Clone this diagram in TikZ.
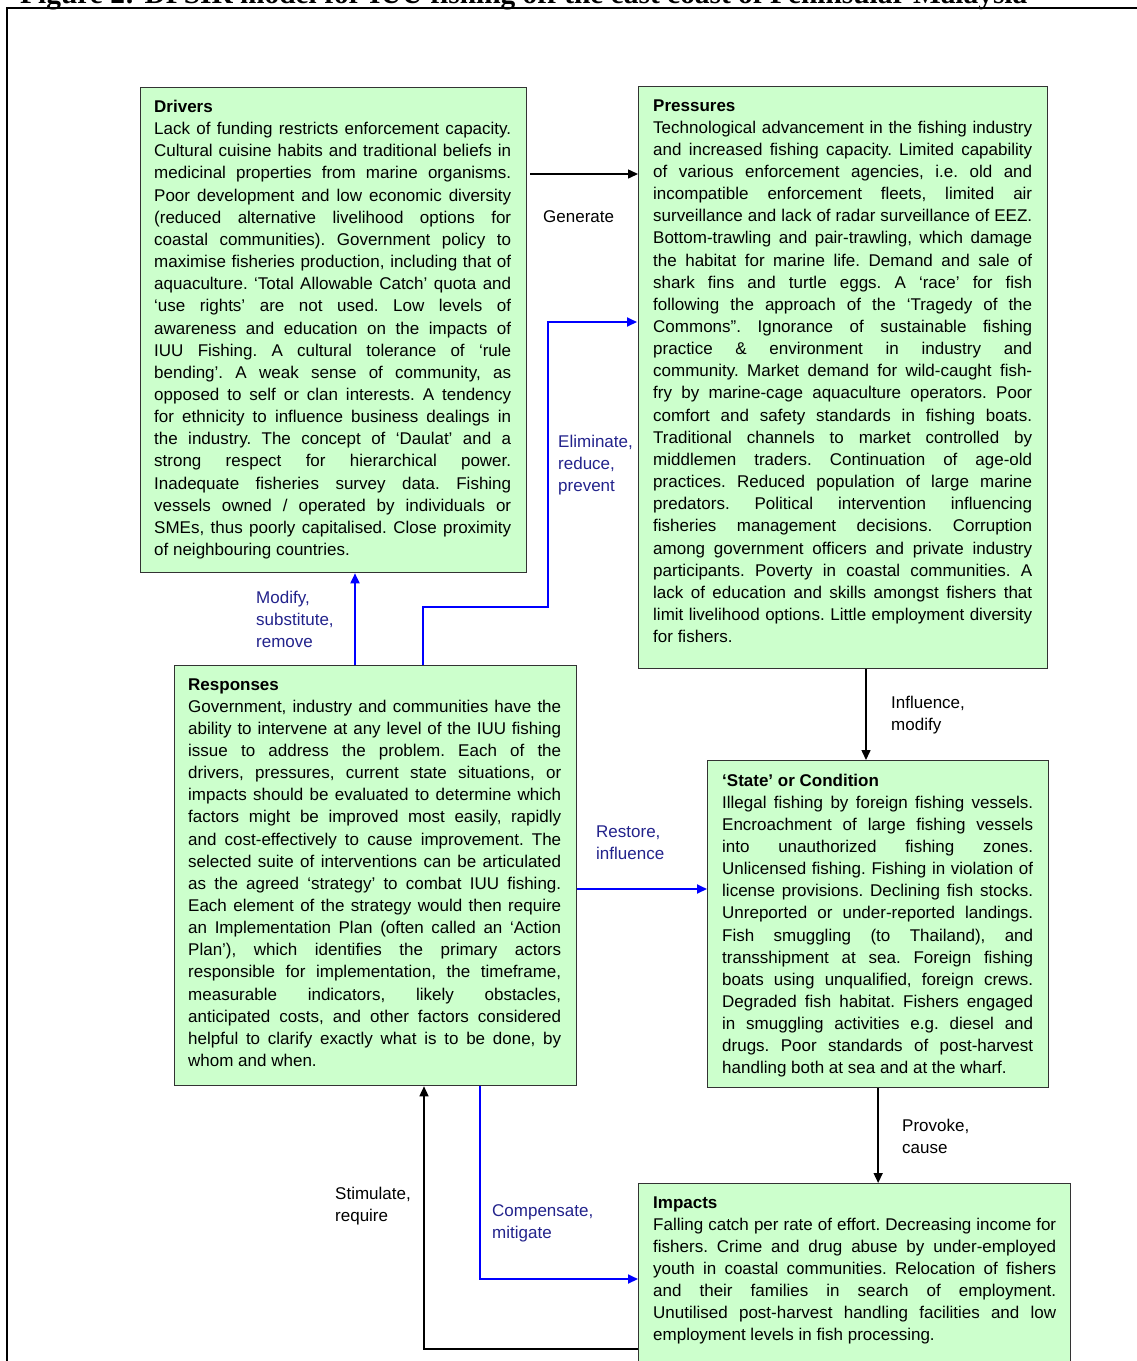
\documentclass[tikz,border=0pt]{standalone}
\usepackage{fontspec}
\setmainfont{Liberation Sans}
\newfontfamily\titlefont{Liberation Serif}
\usetikzlibrary{arrows.meta,calc}
\definecolor{boxfill}{HTML}{CCFFCC}
\definecolor{boxline}{HTML}{333333}
\definecolor{arrblue}{HTML}{0000FF}
\definecolor{lblblue}{HTML}{23238C}
\newcommand\JL[1]{\noindent\hbox to\hsize{\spaceskip=0.278em plus 1fill minus 0.08em\relax #1}\par}
\newcommand\NL[1]{\noindent\hbox{#1}\par}
\newcommand\TXT[2]{\vtop{\hsize=#1\parskip=0pt\parindent=0pt\frenchspacing\fontsize{17}{22.15}\selectfont #2}}
\tikzset{
  box/.style={draw=boxline, fill=boxfill, line width=1.3pt, inner sep=0pt, anchor=north west},
  txt/.style={inner sep=0pt, anchor=base west, text=black},
  lbl/.style={inner sep=0pt, anchor=base west},
  blk/.style={draw=black, line width=1.5pt, -{Triangle[length=10pt,width=9pt]}},
  blu/.style={draw=arrblue, line width=1.8pt, -{Triangle[length=10pt,width=9pt]}},
}
\begin{document}
\begin{tikzpicture}[x=1pt,y=-1pt]
\useasboundingbox (0,0) rectangle (1137,1361);
\fill[white] (0,0) rectangle (1137,1361);
% partially visible caption and frame
\node[inner sep=0pt, anchor=base west] (title) at (20,3.5) {\titlefont\bfseries\fontsize{29.4}{32}\selectfont Figure 2: DPSIR model for IUU fishing off the east coast of Peninsular Malaysia};
\draw[line width=1.5pt] (1160,8) -- (7,8) -- (7,1380);

% boxes
\node[box, minimum width=386pt, minimum height=485pt] (drivers) at (140,87) {};
\node[box, minimum width=409pt, minimum height=582pt] (pressures) at (638,86) {};
\node[box, minimum width=402pt, minimum height=420pt] (responses) at (174,665) {};
\node[box, minimum width=341pt, minimum height=327pt] (state) at (707,760) {};
\node[box, minimum width=432pt, minimum height=260pt] (impacts) at (638,1183) {};

\node[txt] (driversT) at (154,112.5) {\TXT{357pt}{%
\NL{\bfseries Drivers}
\JL{Lack of funding restricts enforcement capacity.}
\JL{Cultural cuisine habits and traditional beliefs in}
\JL{medicinal properties from marine organisms.}
\JL{Poor development and low economic diversity}
\JL{(reduced alternative livelihood options for}
\JL{coastal communities). Government policy to}
\JL{maximise fisheries production, including that of}
\JL{aquaculture. ‘Total Allowable Catch’ quota and}
\JL{‘use rights’ are not used. Low levels of}
\JL{awareness and education on the impacts of}
\JL{IUU Fishing. A cultural tolerance of ‘rule}
\JL{bending’. A weak sense of community, as}
\JL{opposed to self or clan interests. A tendency}
\JL{for ethnicity to influence business dealings in}
\JL{the industry. The concept of ‘Daulat’ and a}
\JL{strong respect for hierarchical power.}
\JL{Inadequate fisheries survey data. Fishing}
\JL{vessels owned / operated by individuals or}
\JL{SMEs, thus poorly capitalised. Close proximity}
\NL{of neighbouring countries.}}};

\node[txt] (pressuresT) at (653,111) {\TXT{379pt}{%
\NL{\bfseries Pressures}
\JL{Technological advancement in the fishing industry}
\JL{and increased fishing capacity. Limited capability}
\JL{of various enforcement agencies, i.e. old and}
\JL{incompatible enforcement fleets, limited air}
\JL{surveillance and lack of radar surveillance of EEZ.}
\JL{Bottom-trawling and pair-trawling, which damage}
\JL{the habitat for marine life. Demand and sale of}
\JL{shark fins and turtle eggs. A ‘race’ for fish}
\JL{following the approach of the ‘Tragedy of the}
\JL{Commons”. Ignorance of sustainable fishing}
\JL{practice \& environment in industry and}
\JL{community. Market demand for wild-caught fish-}
\JL{fry by marine-cage aquaculture operators. Poor}
\JL{comfort and safety standards in fishing boats.}
\JL{Traditional channels to market controlled by}
\JL{middlemen traders. Continuation of age-old}
\JL{practices. Reduced population of large marine}
\JL{predators. Political intervention influencing}
\JL{fisheries management decisions. Corruption}
\JL{among government officers and private industry}
\JL{participants. Poverty in coastal communities. A}
\JL{lack of education and skills amongst fishers that}
\JL{limit livelihood options. Little employment diversity}
\NL{for fishers.}}};

\node[txt] (responsesT) at (188,690) {\TXT{373pt}{%
\NL{\bfseries Responses}
\JL{Government, industry and communities have the}
\JL{ability to intervene at any level of the IUU fishing}
\JL{issue to address the problem. Each of the}
\JL{drivers, pressures, current state situations, or}
\JL{impacts should be evaluated to determine which}
\JL{factors might be improved most easily, rapidly}
\JL{and cost-effectively to cause improvement. The}
\JL{selected suite of interventions can be articulated}
\JL{as the agreed ‘strategy’ to combat IUU fishing.}
\JL{Each element of the strategy would then require}
\JL{an Implementation Plan (often called an ‘Action}
\JL{Plan’), which identifies the primary actors}
\JL{responsible for implementation, the timeframe,}
\JL{measurable indicators, likely obstacles,}
\JL{anticipated costs, and other factors considered}
\JL{helpful to clarify exactly what is to be done, by}
\NL{whom and when.}}};

\node[txt] (stateT) at (722,786) {\TXT{311pt}{%
\NL{\bfseries ‘State’ or Condition}
\JL{Illegal fishing by foreign fishing vessels.}
\JL{Encroachment of large fishing vessels}
\JL{into unauthorized fishing zones.}
\JL{Unlicensed fishing. Fishing in violation of}
\JL{license provisions. Declining fish stocks.}
\JL{Unreported or under-reported landings.}
\JL{Fish smuggling (to Thailand), and}
\JL{transshipment at sea. Foreign fishing}
\JL{boats using unqualified, foreign crews.}
\JL{Degraded fish habitat. Fishers engaged}
\JL{in smuggling activities e.g. diesel and}
\JL{drugs. Poor standards of post-harvest}
\NL{handling both at sea and at the wharf.}}};

\node[txt] (impactsT) at (653,1208) {\TXT{403pt}{%
\NL{\bfseries Impacts}
\JL{Falling catch per rate of effort. Decreasing income for}
\JL{fishers. Crime and drug abuse by under-employed}
\JL{youth in coastal communities. Relocation of fishers}
\JL{and their families in search of employment.}
\JL{Unutilised post-harvest handling facilities and low}
\NL{employment levels in fish processing.}}};

% connector anchor points
\coordinate (g1) at ($(drivers.north east)+(3,87)$);
\coordinate (g2) at ($(pressures.north west)+(0,88)$);
\coordinate (e1) at ($(responses.north west)+(249,0)$);
\coordinate (e2) at ($(pressures.north west)+(-1,236)$);
\coordinate (m1) at ($(responses.north west)+(181,0)$);
\coordinate (i1) at ($(pressures.south west)+(228,0)$);
\coordinate (r1) at ($(responses.north east)+(0,224)$);
\coordinate (c1) at ($(responses.south west)+(306,0)$);
\coordinate (c2) at ($(impacts.north west)+(0,96)$);
\coordinate (s1) at ($(impacts.north west)+(0,166)$);
\coordinate (s2) at ($(responses.south west)+(250,0)$);

% connectors
\draw[blk] (g1) -- (g2);
\draw[blu] (e1) |- ++(125,-58) |- (e2);
\draw[blu] (m1) -- (m1 |- drivers.south);
\draw[blk] (i1) -- (i1 |- state.north);
\draw[blu] (r1) -- (r1 -| state.west);
\draw[blk] (state.south) -- (state.south |- impacts.north);
\draw[blu] (c1) |- (c2);
\draw[blk] (s1) -| (s2);

% labels
\node[lbl, text=black] (lgen) at (543,222) {\TXT{100pt}{\NL{Generate}}};
\node[lbl, text=lblblue] (lelim) at (558,447) {\TXT{100pt}{\NL{Eliminate,}\NL{reduce,}\NL{prevent}}};
\node[lbl, text=lblblue] (lmod) at (256,603) {\TXT{100pt}{\NL{Modify,}\NL{substitute,}\NL{remove}}};
\node[lbl, text=black] (linf) at (891,708) {\TXT{100pt}{\NL{Influence,}\NL{modify}}};
\node[lbl, text=lblblue] (lres) at (596,837) {\TXT{100pt}{\NL{Restore,}\NL{influence}}};
\node[lbl, text=black] (lpro) at (902,1131) {\TXT{100pt}{\NL{Provoke,}\NL{cause}}};
\node[lbl, text=lblblue] (lcom) at (492,1216) {\TXT{120pt}{\NL{Compensate,}\NL{mitigate}}};
\node[lbl, text=black] (lsti) at (335,1199) {\TXT{100pt}{\NL{Stimulate,}\NL{require}}};
\end{tikzpicture}
\end{document}
